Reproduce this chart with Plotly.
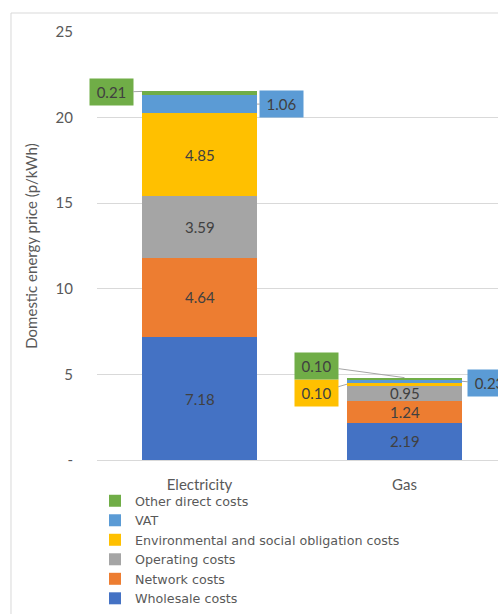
import plotly.graph_objects as go

categories = ["Electricity", "Gas"]
series_names = ["Wholesale costs", "Network costs", "Operating costs",
                "Environmental and social obligation costs", "VAT", "Other direct costs"]
wholesale = [7.18, 2.19]
network = [4.64, 1.24]
operating = [3.59, 0.95]
environmental = [4.85, 0.10]
vat = [1.06, 0.23]
other = [0.21, 0.10]
y_ticks = [0, 5, 10, 15, 20, 25]
y_ticklabels = ["-", "5", "10", "15", "20", "25"]

series_values = [wholesale, network, operating, environmental, vat, other]
colors = ["#4472C4", "#ED7D31", "#A5A5A5", "#FFC000", "#5B9BD5", "#70AD47"]

# which segments get callout labels instead of inside labels: (series index, category index)
callouts = {
    (5, 0): dict(side=-1, ax=-31, ay=1, anchor="top"),
    (4, 0): dict(side=1, ax=25, ay=0, anchor="mid"),
    (5, 1): dict(side=0, ax=-88, ay=-12, anchor="top"),
    (3, 1): dict(side=-1, ax=-31, ay=9, anchor="mid"),
    (4, 1): dict(side=1, ax=28, ay=2, anchor="mid"),
}

FONT = "Lato"
LEGFONT = "DejaVu Sans"
TXT = "#595959"
LBL = "#404040"
BARW = 0.56
FS = 15
H = 614
TOP = 32
PAPER_H = H - TOP

def py(pix):
    return (H - pix) / PAPER_H

fig = go.Figure()
for si, (name, vals, col) in enumerate(zip(series_names, series_values, colors)):
    fig.add_trace(go.Bar(
        x=categories, y=vals, name=name, marker=dict(color=col, line=dict(width=0)),
        width=BARW, hoverinfo="skip",
    ))

annotations = []
for si, vals in enumerate(series_values):
    for ci, v in enumerate(vals):
        base = sum(series_values[k][ci] for k in range(si))
        if (si, ci) in callouts:
            spec = callouts[(si, ci)]
            y = base + v if spec["anchor"] == "top" else base + v / 2
            x = ci + spec["side"] * BARW / 2
            annotations.append(dict(
                x=x, y=y, xref="x", yref="y", text=f"{v:.2f}",
                showarrow=True, arrowhead=0, arrowwidth=1, arrowcolor="#A6A6A6",
                ax=spec["ax"], ay=spec["ay"], axref="pixel", ayref="pixel",
                bgcolor=colors[si], borderpad=3, font=dict(family=FONT, size=FS, color=LBL),
                width=37, height=20,
            ))
        else:
            annotations.append(dict(
                x=ci, y=base + v / 2, xref="x", yref="y", text=f"{v:.2f}",
                showarrow=False, font=dict(family=FONT, size=FS, color=LBL),
            ))

fig.update_layout(
    width=498, height=H,
    margin=dict(l=97, r=0, t=TOP, b=0),
    barmode="stack",
    paper_bgcolor="white", plot_bgcolor="white",
    font=dict(family=FONT, size=FS, color=TXT),
    showlegend=True,
    legend=dict(traceorder="reversed", orientation="v", x=-0.005, y=0,
                xanchor="left", yanchor="bottom", bgcolor="rgba(0,0,0,0)",
                font=dict(family=LEGFONT, size=12.7, color=TXT),
                tracegroupgap=0, itemwidth=30),
    annotations=annotations,
    shapes=[dict(type="rect", xref="paper", yref="paper", x0=-0.2145, x1=1.2,
                 y0=-0.1, y1=py(13), line=dict(color="#D9D9D9", width=1), layer="below")],
)
fig.update_yaxes(range=[0, 25], domain=[py(460), 1], tickvals=y_ticks, ticktext=y_ticklabels,
                 automargin=False,
                 showgrid=True, gridcolor="#D9D9D9", gridwidth=1, zeroline=False,
                 showline=False, ticks="outside", ticklen=20, tickcolor="rgba(0,0,0,0)",
                 tickfont=dict(family=FONT, size=FS, color=TXT),
                 title=dict(text="Domestic energy price (p/kWh)", standoff=14,
                            font=dict(family=FONT, size=FS, color=TXT)))
fig.update_xaxes(range=[-0.5, 1.456], showline=True, linecolor="#D9D9D9", linewidth=1,
                 automargin=False, ticks="outside", ticklen=11, tickcolor="rgba(0,0,0,0)",
                 tickfont=dict(family=FONT, size=FS, color=TXT))

fig.write_html("out.html")
